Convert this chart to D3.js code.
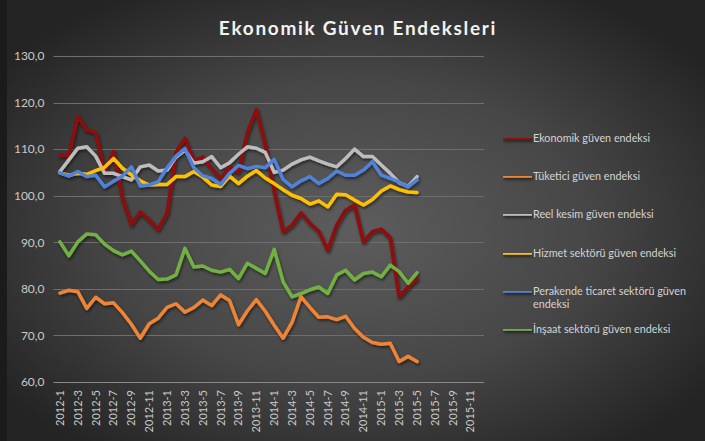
<!DOCTYPE html>
<html>
<head>
<meta charset="utf-8">
<script src="https://cdn.jsdelivr.net/npm/d3@7"></script>
<style>
  body { margin: 0; background: #1e1e1e; }
  svg { display: block; font-family: Lato, "Open Sans", sans-serif; }
</style>
</head>
<body>
<svg id="chart"></svg>
<script>
var months = ["2012-1","2012-2","2012-3","2012-4","2012-5","2012-6","2012-7","2012-8","2012-9","2012-10","2012-11","2012-12",
              "2013-1","2013-2","2013-3","2013-4","2013-5","2013-6","2013-7","2013-8","2013-9","2013-10","2013-11","2013-12",
              "2014-1","2014-2","2014-3","2014-4","2014-5","2014-6","2014-7","2014-8","2014-9","2014-10","2014-11","2014-12",
              "2015-1","2015-2","2015-3","2015-4","2015-5","2015-6","2015-7","2015-8","2015-9","2015-10","2015-11","2015-12"]

var seriesNames = ["Ekonomik güven endeksi", "Tüketici güven endeksi", "Reel kesim güven endeksi",
                   "Hizmet sektörü güven endeksi", "Perakende ticaret sektörü güven endeksi", "İnşaat sektörü güven endeksi"]

var ekonomik = [108.7,108.6,117.0,114.1,113.6,105.0,109.5,99.5,93.8,96.5,94.8,92.8,
                96.2,109.3,112.3,107.5,108.3,105.8,103.8,106.1,105.0,113.6,118.5,110.9,
                101.0,92.3,93.7,96.3,94.1,92.3,88.3,93.7,96.9,98.0,90.1,92.3,
                92.8,91.0,78.3,80.4,82.2]
var tuketici = [79.1,79.7,79.4,75.8,78.2,76.8,77.0,74.9,72.4,69.4,72.5,73.7,
                76.0,76.8,75.0,76.0,77.6,76.4,78.7,77.5,72.3,75.3,77.7,75.2,
                72.2,69.4,72.8,78.3,76.0,73.9,74.0,73.4,74.1,71.5,69.6,68.5,
                68.1,68.3,64.4,65.5,64.4]
var reel = [105.2,107.7,110.2,110.5,108.5,104.8,104.8,104.1,103.4,106.2,106.6,105.3,
            105.5,108.3,109.8,107.0,107.3,108.4,106.0,107.1,108.9,110.5,110.2,109.3,
            105.0,105.5,106.8,107.7,108.3,107.5,106.8,106.2,108.0,110.0,108.4,108.4,
            106.6,104.8,102.8,102.0,104.1]
var hizmet = [104.9,104.4,104.8,104.6,105.4,106.1,108.0,105.9,104.5,103.2,102.3,102.4,
              102.4,104.1,104.1,105.2,104.0,102.3,102.0,104.2,102.6,104.2,105.4,103.8,
              102.6,101.3,100.1,99.4,98.2,98.9,97.6,100.3,100.2,99.1,98.0,99.2,
              101.0,102.1,101.3,100.8,100.7]
var perakende = [104.9,104.2,105.2,104.1,104.4,101.9,103.1,104.2,106.2,102.1,102.3,103.0,
                 106.0,108.5,110.1,106.0,104.3,103.7,102.4,104.8,106.5,105.8,106.3,106.0,
                 107.8,103.5,101.9,103.2,104.1,102.6,103.7,105.3,104.4,104.4,105.5,107.3,
                 104.4,103.7,102.9,101.9,103.4]
var insaat = [90.1,87.1,90.1,91.8,91.6,89.6,88.2,87.3,88.1,86.0,83.8,82.0,
              82.1,83.0,88.7,84.7,84.9,84.0,83.6,84.2,82.2,85.5,84.4,83.3,
              88.5,81.5,78.3,79.0,79.8,80.4,79.0,83.0,84.0,81.9,83.3,83.6,
              82.6,85.1,83.7,81.2,83.5]

var yTicks = [60, 70, 80, 90, 100, 110, 120, 130]

var colors = ["#8e0b0b", "#ee8434", "#bdbdbd", "#ffc000", "#4f82d8", "#72b043"]
var allSeries = [ekonomik, tuketici, reel, hizmet, perakende, insaat]

var dimensions = {
    width: 705,
    height: 441,
    margin: {
        top: 56,
        bottom: 59,
        right: 221,
        left: 55.5
    }
}

var svg = d3.select("#chart")
            .attr("width", dimensions.width)
            .attr("height", dimensions.height)

var defs = svg.append("defs")
var grad = defs.append("radialGradient")
               .attr("id", "bg")
               .attr("cx", "50%").attr("cy", "52%").attr("r", "62%")
grad.append("stop").attr("offset", "0%").attr("stop-color", "#5d5d5d")
grad.append("stop").attr("offset", "55%").attr("stop-color", "#464646")
grad.append("stop").attr("offset", "100%").attr("stop-color", "#242424")

var shadow = defs.append("filter").attr("id", "shadow")
                 .attr("filterUnits", "userSpaceOnUse")
                 .attr("x", 0).attr("y", 0).attr("width", dimensions.width).attr("height", dimensions.height)
shadow.append("feDropShadow")
      .attr("dx", 1).attr("dy", 2).attr("stdDeviation", 1.5)
      .attr("flood-color", "#000").attr("flood-opacity", 0.55)

svg.append("rect")
   .attr("width", dimensions.width)
   .attr("height", dimensions.height)
   .attr("fill", "url(#bg)")

svg.append("rect")
   .attr("width", 7)
   .attr("height", dimensions.height)
   .attr("fill", "#1b1b1b")

svg.append("text")
   .attr("x", 358)
   .attr("y", 35)
   .attr("text-anchor", "middle")
   .attr("fill", "#f2f2f2")
   .style("font-size", "19px")
   .style("font-weight", "bold")
   .style("letter-spacing", "1.7px")
   .text("Ekonomik Güven Endeksleri")

var xScale = d3.scaleBand()
               .domain(months)
               .range([dimensions.margin.left, dimensions.width - dimensions.margin.right])
               .padding(0)

var yScale = d3.scaleLinear()
               .domain([60, 130])
               .range([dimensions.height - dimensions.margin.bottom, dimensions.margin.top])

// gridlines
svg.append("g")
   .selectAll("line")
   .data(yTicks)
   .enter()
   .append("line")
   .attr("x1", dimensions.margin.left - 2)
   .attr("x2", dimensions.width - dimensions.margin.right)
   .attr("y1", d => Math.round(yScale(d)) + 0.5)
   .attr("y2", d => Math.round(yScale(d)) + 0.5)
   .attr("stroke", d => d == 60 ? "#8a8a8a" : "#6e6e6e")
   .attr("stroke-width", 1)

var yAxisGen = d3.axisLeft(yScale)
                 .tickValues(yTicks)
                 .tickSize(0)
                 .tickPadding(10)
                 .tickFormat(d => d3.format(".1f")(d).replace(".", ","))
var yAxis = svg.append("g")
               .attr("transform", `translate(${dimensions.margin.left - 1},0)`)
               .call(yAxisGen)
yAxis.select(".domain").remove()
yAxis.selectAll("text")
     .attr("fill", "#c9c9c9")
     .style("font-size", "12px")
     .style("font-family", "Lato, sans-serif")

var xAxisGen = d3.axisBottom(xScale)
                 .tickValues(months.filter((d, i) => i % 2 === 0))
                 .tickSize(0)
var xAxis = svg.append("g")
               .attr("transform", `translate(0,${dimensions.height - dimensions.margin.bottom})`)
               .call(xAxisGen)
xAxis.select(".domain").remove()
xAxis.selectAll("text")
     .attr("fill", "#c9c9c9")
     .style("font-size", "11px")
     .style("font-family", "Lato, sans-serif")
     .attr("text-anchor", "end")
     .attr("dy", "0.35em")
     .attr("transform", "translate(0,8) rotate(-90)")
     .attr("x", 0)
     .attr("y", 0)

var line = d3.line()
             .x((d, i) => xScale(months[i]) + xScale.bandwidth() / 2)
             .y(d => yScale(d))

svg.append("g")
   .attr("filter", "url(#shadow)")
   .selectAll("path")
   .data(allSeries)
   .enter()
   .append("path")
   .attr("d", d => line(d))
   .attr("fill", "none")
   .attr("stroke", (d, i) => colors[i])
   .attr("stroke-width", 3.5)
   .attr("stroke-linejoin", "round")
   .attr("stroke-linecap", "round")

// legend
var legendY = [138, 176, 214, 253, 291, 329]
var legend = svg.append("g")
                .selectAll("g")
                .data(seriesNames)
                .enter()
                .append("g")
                .attr("transform", (d, i) => `translate(503,${legendY[i]})`)

legend.append("rect")
      .attr("x", 0).attr("y", -1.75)
      .attr("width", 29).attr("height", 3.5)
      .attr("fill", (d, i) => colors[i])
      .attr("filter", "url(#shadow)")

legend.append("text")
      .attr("x", 30)
      .attr("fill", "#d4d4d4")
      .style("font-size", "10.8px")
      .each(function(d) {
          var t = d3.select(this)
          if (d.indexOf("Perakende") === 0) {
              t.append("tspan").attr("x", 30).attr("dy", "0.35em").text("Perakende ticaret sektörü güven")
              t.append("tspan").attr("x", 30).attr("dy", "1.2em").text("endeksi")
          } else {
              t.attr("dy", "0.35em").text(d)
          }
      })
</script>
</body>
</html>
